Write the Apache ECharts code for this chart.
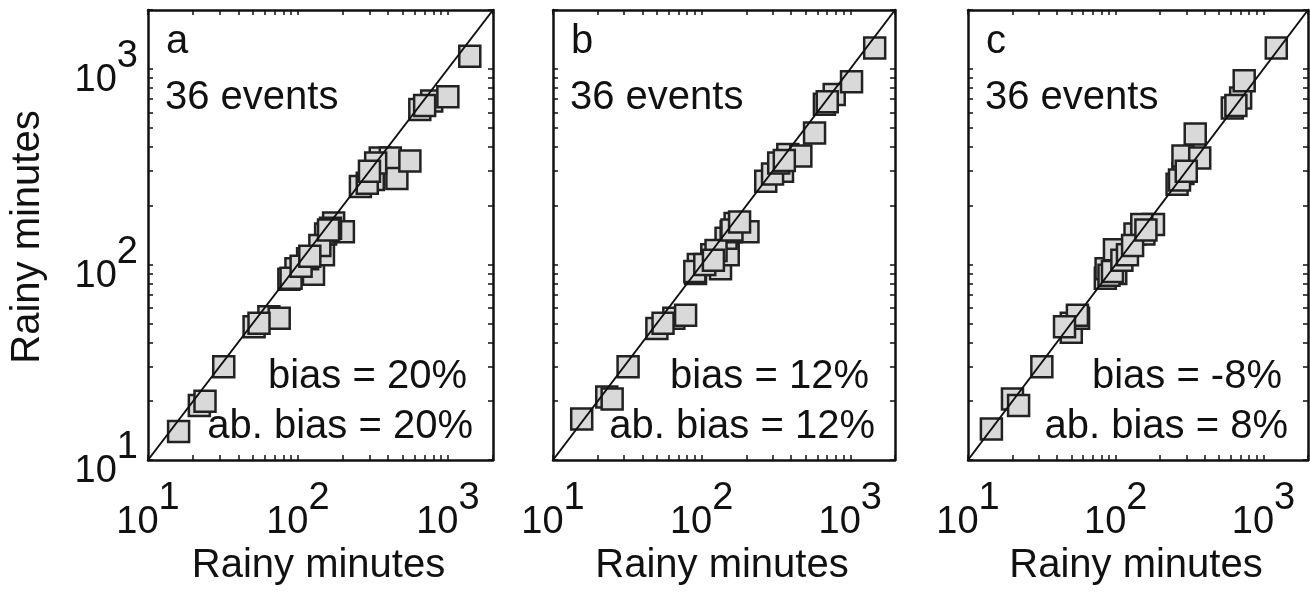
<!DOCTYPE html>
<html><head><meta charset="utf-8">
<script src="https://cdn.jsdelivr.net/npm/echarts@6/dist/echarts.min.js"></script>
<style>html,body{margin:0;padding:0;background:#fff}#c{width:1310px;height:592px}</style>
</head><body><div id="c"></div>
<script>
const panelLetters = ['a','b','c'];
const biasText = ['bias = 20%','bias = 12%','bias = -8%'];
const absBiasText = ['ab. bias = 20%','ab. bias = 12%','ab. bias = 8%'];
const eventsText = '36 events';
const axisTitle = 'Rainy minutes';
const majorTicks = [10,100,1000];
const tickValues = [10,20,30,40,50,60,70,80,90,100,200,300,400,500,600,700,800,900,1000,2000];
const diagonal = [[10,10],[2000,2000]];
const pointsA = [[16,14],[22,19],[24,20],[32,30],[51,48],[64,54],[75,53],[87,84],[97,95],[127,89],[116,107],[148,112],[153,143],[173,163],[201,147],[165,153],[261,250],[318,272],[354,350],[413,350],[457,275],[558,338],[650,620],[780,685],[1000,720],[1400,1160],
 [90,85],[105,98],[140,125],[160,150],[290,260],[330,330],[300,300],[700,650],[120,110],[55,50]];
const pointsB = [[15.6,16.2],[23,21],[25,20.5],[32,30],[50,47],[65,53],[78,55],[91,90],[95,100],[134,95],[117,112],[151,112],[146,136],[168,162],[205,147],[158,147],[270,266],[350,300],[380,365],[465,358],[575,470],[670,660],[780,740],[1020,860],[1460,1280],
 [90,92],[105,100],[125,118],[160,150],[300,290],[330,330],[360,340],[700,680],[120,105],[55,50],[180,165]];
const pointsC = [[14.4,14.4],[20,20.5],[22,19],[31.6,30],[50,50],[50,45],[56,53],[85,85],[86,95],[100,90],[106,112],[98,119],[135,143],[155,143],[180,160],[150,160],[260,257],[285,292],[285,358],[345,464],[370,350],[615,630],[700,710],[740,870],[1220,1280],
 [90,88],[95,92],[110,105],[120,112],[130,125],[160,150],[270,270],[300,300],[55,55],[45,48],[650,650]];
const allPoints = [pointsA,pointsB,pointsC];

const grids = [{left:148,width:345},{left:553,width:342},{left:968,width:340}];
const F = 'Liberation Sans, Arial, sans-serif';
const sup = {b:{fontSize:38,fontFamily:F,color:'#111',padding:[24,0,0,0]},s:{fontSize:38,fontFamily:F,color:'#111',padding:[0,0,24,0]}};
function fmt(v){const e=Math.round(Math.log10(v));return '{b|10}{s|'+e+'}';}
const chart = echarts.init(document.getElementById('c'));
const option = {grid:[],xAxis:[],yAxis:[],series:[],graphic:[],animation:false};
grids.forEach((g,i)=>{
  option.grid.push({left:g.left,width:g.width,top:10,bottom:132});
  const base = {type:'log',logBase:10,min:10,max:2000,gridIndex:i,splitLine:{show:false},
    axisLine:{lineStyle:{color:'#111',width:2.5}},
    axisTick:{inside:true,length:5,lineStyle:{color:'#111',width:1.5},customValues:tickValues}};
  option.xAxis.push(Object.assign({},base,{position:'bottom',
    axisLabel:{customValues:majorTicks,formatter:fmt,rich:sup,margin:20}}));
  option.xAxis.push(Object.assign({},base,{position:'top',axisLabel:{show:false}}));
  option.yAxis.push(Object.assign({},base,{position:'left',
    axisLabel:{show:i===0,customValues:majorTicks,formatter:fmt,rich:sup,margin:10}}));
  option.yAxis.push(Object.assign({},base,{position:'right',axisLabel:{show:false}}));
  option.series.push({type:'line',xAxisIndex:2*i,yAxisIndex:2*i,data:diagonal,symbol:'none',
    lineStyle:{color:'#111',width:2},clip:true,silent:true});
  option.series.push({type:'scatter',xAxisIndex:2*i,yAxisIndex:2*i,data:allPoints[i],symbol:'rect',symbolSize:21,
    itemStyle:{color:'#d9d9d9',borderColor:'#222',borderWidth:2.5,opacity:1}});
  const ts = {fontSize:40,fontFamily:F,fill:'#111'};
  option.graphic.push({type:'text',left:g.left+18,top:22,style:Object.assign({text:panelLetters[i]},ts)});
  option.graphic.push({type:'text',left:g.left+17,top:78,style:Object.assign({text:eventsText},ts)});
  option.graphic.push({type:'text',right:1310-(g.left+g.width)+26,top:357,style:Object.assign({text:biasText[i]},ts)});
  option.graphic.push({type:'text',right:1310-(g.left+g.width)+20,top:407,style:Object.assign({text:absBiasText[i]},ts)});
  option.graphic.push({type:'text',x:g.left+g.width/2-2,y:546,style:{text:axisTitle,fontSize:40,fontFamily:F,fill:'#111',align:'center'}});
});
option.graphic.push({type:'text',x:8,y:237,rotation:Math.PI/2,style:{text:axisTitle,fontSize:40,fontFamily:F,fill:'#111',align:'center'}});
chart.setOption(option);
</script></body></html>
